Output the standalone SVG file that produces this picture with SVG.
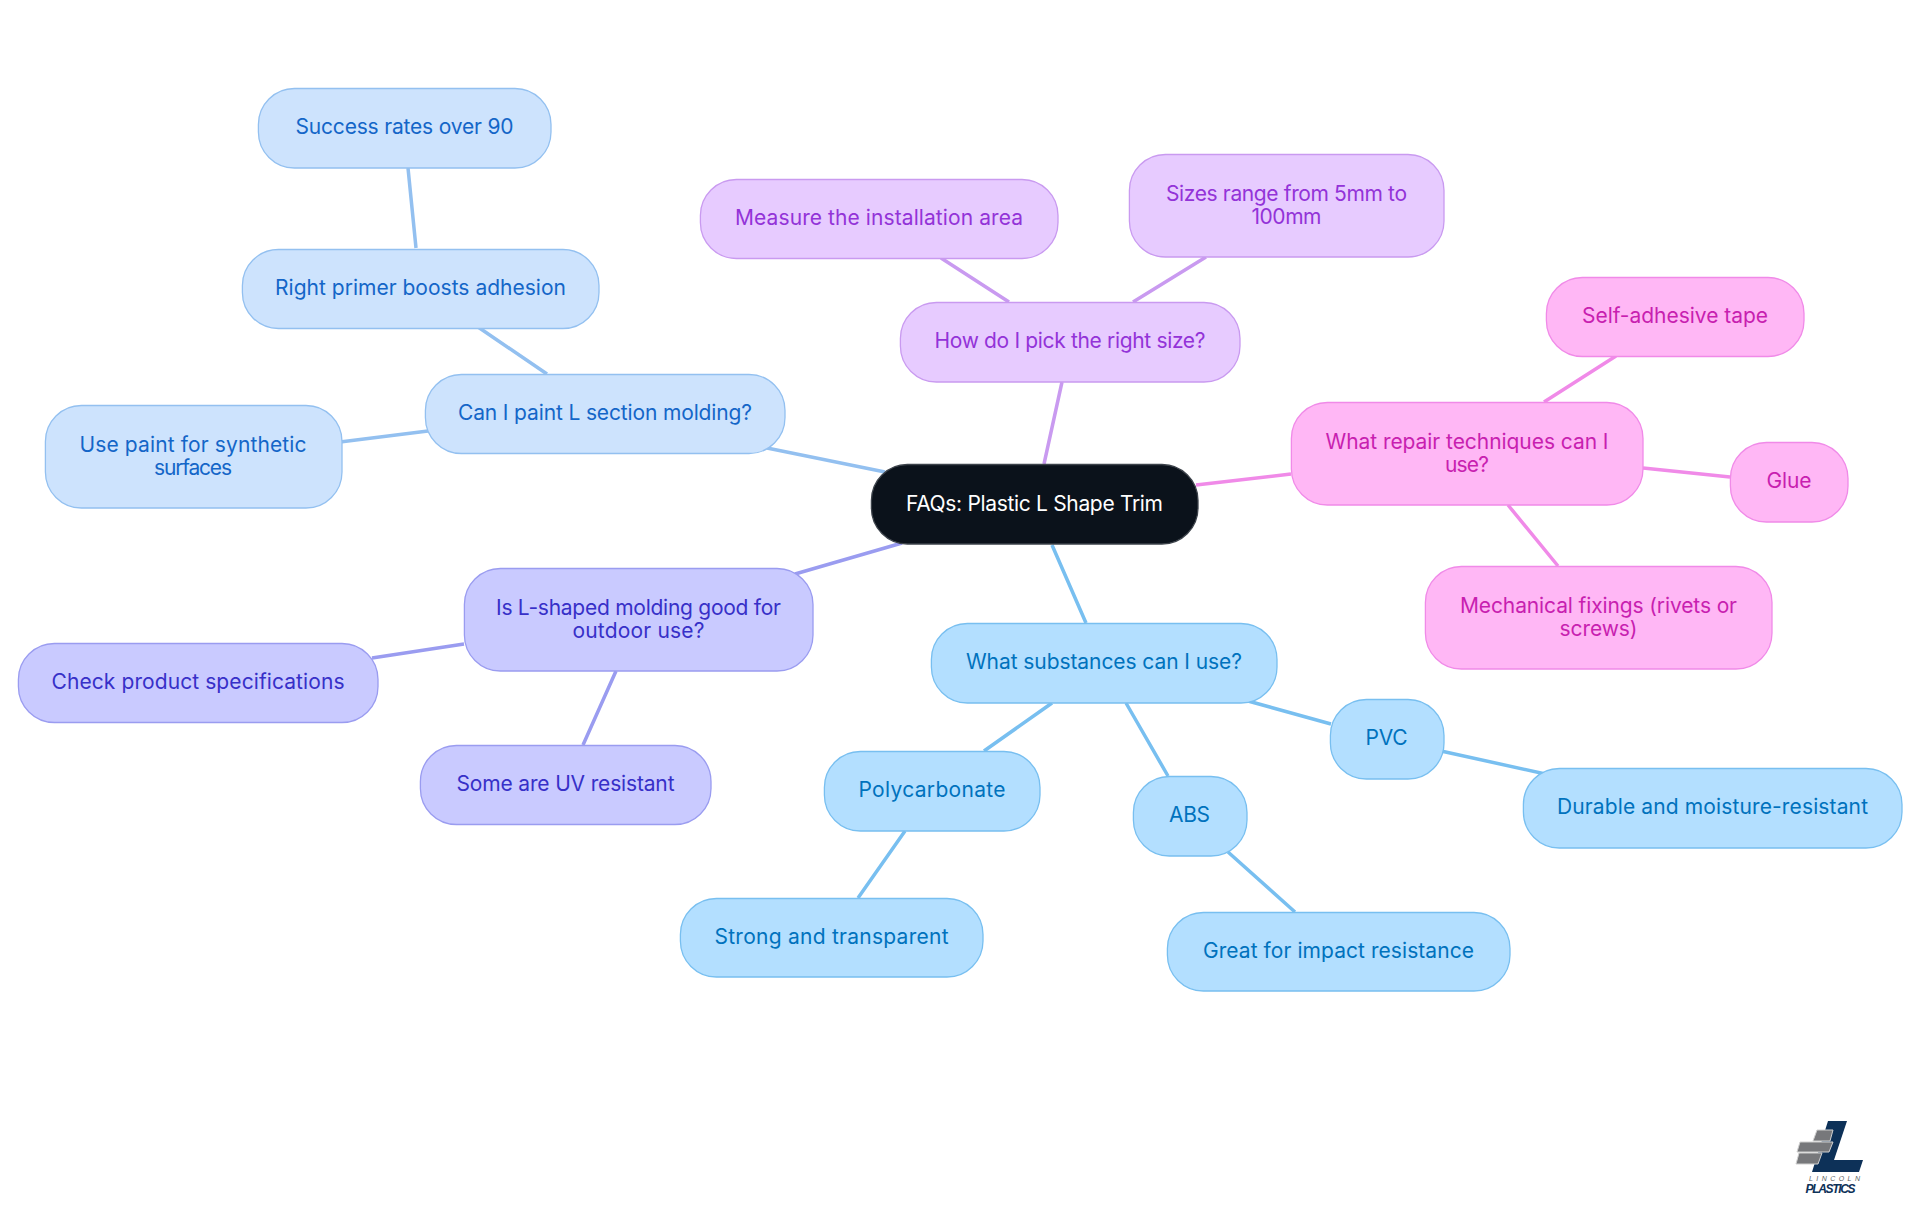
<svg xmlns="http://www.w3.org/2000/svg" width="1920" height="1215" viewBox="0 0 1920 1215">
<style>
text{font-family:"Inter","Noto Sans","Liberation Sans",sans-serif;font-size:21px;text-anchor:middle;dominant-baseline:central}
.n rect{stroke-width:1.3}
.c path{fill:none;stroke-width:3.5}
.root rect{fill:#0b121b;stroke:#3d434b}.root text{fill:#fff}
.lb rect{fill:#cde3fd;stroke:#93c0f0}.lb text{fill:#1466c8}
.vi rect{fill:#c9caff;stroke:#9a9cf0}.vi text{fill:#3730c8}
.sk rect{fill:#b3dfff;stroke:#78bff0}.sk text{fill:#0072bd}
.pu rect{fill:#e7cbff;stroke:#c99af0}.pu text{fill:#9333d8}
.pk rect{fill:#ffb7f5;stroke:#f08ae8}.pk text{fill:#c81fb0}
</style>
<rect width="1920" height="1215" fill="#fff"/>
<g id="connectors" class="c">
<path stroke="#93c0f0" d="M885 472L767 448M547 374L478 327M416 248L408 168M428 431L340 442"/>
<path stroke="#9a9cf0" d="M902 543L795 574M464 644L372 658M616 671L583 745"/>
<path stroke="#c99af0" d="M1044 464L1062 382M1009 302L941 258M1133 302L1206 257"/>
<path stroke="#f08ae8" d="M1196 485L1291 474M1544 402L1616 356M1643 468L1730 477M1508 505L1558 566"/>
<path stroke="#78bff0" d="M1052 545L1086 623M1052 703L984 751M1126 703L1168 776M1248 701L1331 724M905 831L858 898M1228 852L1295 912M1441 751L1550 775"/>
</g>
<g id="root" class="n root"><rect x="871.400" y="464.500" width="326.600" height="79.500" rx="36"/><text x="1034.500" y="503.400" textLength="257">FAQs: Plastic L Shape Trim</text></g>
<g id="n-paint" class="n lb"><rect x="425.400" y="374.500" width="359.600" height="79" rx="36"/><text x="605" y="412.400" textLength="294">Can I paint L section molding?</text></g>
<g id="n-primer" class="n lb"><rect x="242.400" y="249.500" width="356.600" height="79" rx="36"/><text x="420.500" y="287.400" textLength="291">Right primer boosts adhesion</text></g>
<g id="n-success" class="n lb"><rect x="258.400" y="88.500" width="292.600" height="79.500" rx="36"/><text x="404.500" y="126.400" textLength="218">Success rates over 90</text></g>
<g id="n-usepaint" class="n lb"><rect x="45.400" y="405.500" width="296.600" height="102.500" rx="36"/><text x="193" y="444" textLength="227">Use paint for synthetic</text><text x="193" y="467.500" textLength="78">surfaces</text></g>
<g id="n-outdoor" class="n vi"><rect x="464.400" y="568.500" width="348.600" height="102.500" rx="36"/><text x="638.500" y="607" textLength="285">Is L-shaped molding good for</text><text x="638.500" y="630.500" textLength="132">outdoor use?</text></g>
<g id="n-check" class="n vi"><rect x="18.400" y="643.500" width="359.600" height="79" rx="36"/><text x="198" y="681.400" textLength="293">Check product specifications</text></g>
<g id="n-uv" class="n vi"><rect x="420.400" y="745.500" width="290.600" height="79" rx="36"/><text x="565.500" y="783.400" textLength="218">Some are UV resistant</text></g>
<g id="n-size" class="n pu"><rect x="900.400" y="302.500" width="339.600" height="79.500" rx="36"/><text x="1070" y="340.400" textLength="271">How do I pick the right size?</text></g>
<g id="n-measure" class="n pu"><rect x="700.400" y="179.500" width="357.600" height="79" rx="36"/><text x="879" y="217.400" textLength="288">Measure the installation area</text></g>
<g id="n-sizes" class="n pu"><rect x="1129.400" y="154.500" width="314.600" height="102.500" rx="36"/><text x="1286.500" y="193" textLength="241">Sizes range from 5mm to</text><text x="1286.500" y="216.500" textLength="70">100mm</text></g>
<g id="n-repair" class="n pk"><rect x="1291.400" y="402.500" width="351.600" height="102.500" rx="36"/><text x="1467" y="441" textLength="283">What repair techniques can I</text><text x="1467" y="464.500" textLength="44">use?</text></g>
<g id="n-tape" class="n pk"><rect x="1546.400" y="277.500" width="257.600" height="79" rx="36"/><text x="1675" y="315.400" textLength="186">Self-adhesive tape</text></g>
<g id="n-glue" class="n pk"><rect x="1730.400" y="442.500" width="117.600" height="79.500" rx="36"/><text x="1789" y="480.400" textLength="45">Glue</text></g>
<g id="n-mech" class="n pk"><rect x="1425.400" y="566.500" width="346.600" height="102.500" rx="36"/><text x="1598.500" y="605" textLength="277">Mechanical fixings (rivets or</text><text x="1598.500" y="628.500" textLength="78">screws)</text></g>
<g id="n-subst" class="n sk"><rect x="931.400" y="623.500" width="345.600" height="79.500" rx="36"/><text x="1104" y="661.400" textLength="276">What substances can I use?</text></g>
<g id="n-pvc" class="n sk"><rect x="1330.400" y="699.500" width="113.600" height="79.500" rx="36"/><text x="1386.500" y="737.400" textLength="42">PVC</text></g>
<g id="n-durable" class="n sk"><rect x="1523.400" y="768.500" width="378.600" height="79.500" rx="36"/><text x="1712.500" y="806.400" textLength="311">Durable and moisture-resistant</text></g>
<g id="n-abs" class="n sk"><rect x="1133.400" y="776.500" width="113.600" height="79.500" rx="36"/><text x="1189.500" y="814.400" textLength="41">ABS</text></g>
<g id="n-great" class="n sk"><rect x="1167.400" y="912.500" width="342.600" height="78.500" rx="36"/><text x="1338.500" y="950.400" textLength="271">Great for impact resistance</text></g>
<g id="n-poly" class="n sk"><rect x="824.400" y="751.500" width="215.600" height="79.500" rx="36"/><text x="932" y="789.400" textLength="147">Polycarbonate</text></g>
<g id="n-strong" class="n sk"><rect x="680.400" y="898.500" width="302.600" height="78.500" rx="36"/><text x="831.500" y="936.400" textLength="234">Strong and transparent</text></g>
<g id="logo">
<polygon fill="#0d3158" points="1828,1121 1847,1121 1834,1160 1863,1160 1859,1172 1812,1172"/>
<polygon fill="#77787b" stroke="#d0d0d0" points="1817,1130 1833,1130 1830,1141 1813,1141"/>
<polygon fill="#77787b" stroke="#d0d0d0" points="1800,1142 1833,1142 1829,1152 1797,1152"/>
<polygon fill="#77787b" stroke="#d0d0d0" points="1799,1153 1822,1153 1818,1164 1796,1164"/>
<text x="1834.500" y="1178.500" textLength="51" style="font-size:7px;font-style:italic;fill:#5c5f63;font-family:'Liberation Sans',sans-serif">LINCOLN</text>
<text x="1830.500" y="1188.500" textLength="50" style="font-size:12px;font-weight:700;font-style:italic;fill:#0d3158;font-family:'Liberation Sans',sans-serif">PLASTICS</text>
</g>
</svg>
